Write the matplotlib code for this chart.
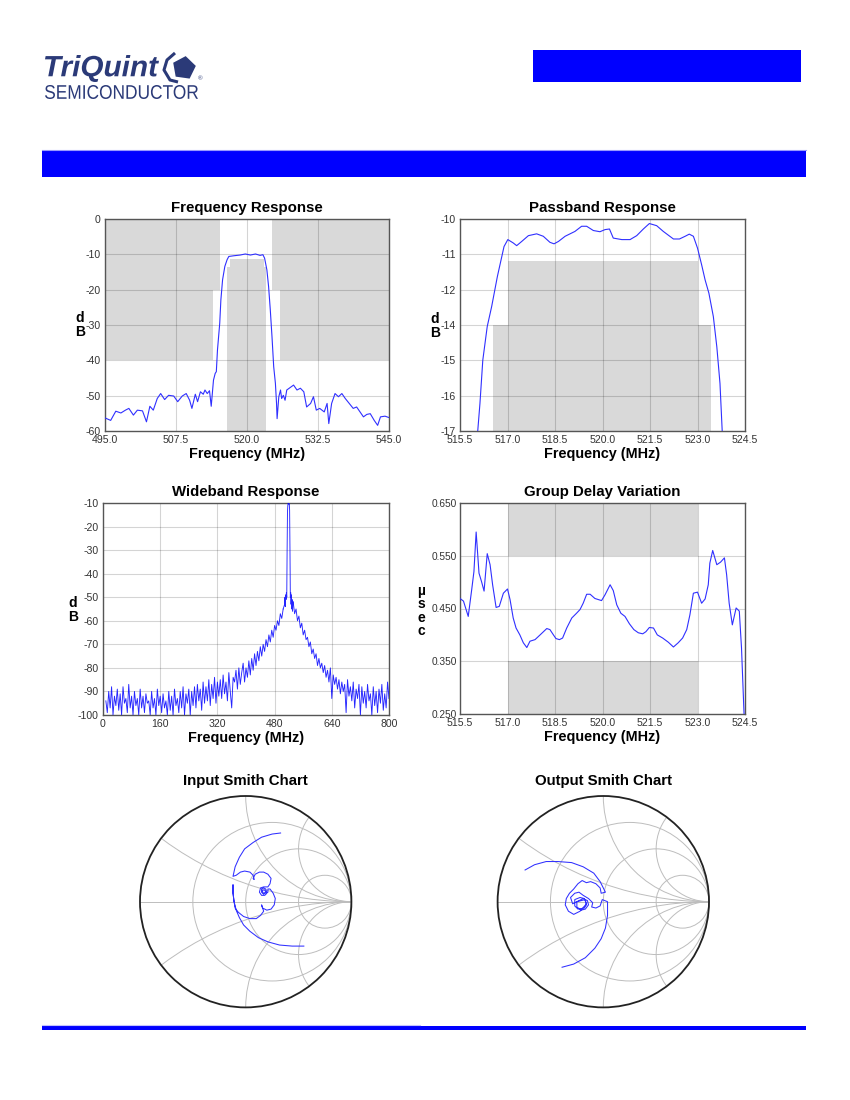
import numpy as np
import matplotlib
matplotlib.use("Agg")
import matplotlib.pyplot as plt
from matplotlib.patches import Rectangle, Circle, Polygon, PathPatch
from matplotlib.textpath import TextPath
from matplotlib.font_manager import FontProperties
from matplotlib.transforms import Affine2D

plt.rcParams['font.family'] = ['Liberation Sans', 'DejaVu Sans']

# ---------------- data ----------------
# Frequency Response (MHz, dB)
fr_freq = [495.0, 496.0, 496.9, 497.8, 498.6, 499.2, 500.0, 500.7, 501.6, 502.3, 502.9, 503.5,
           504.2, 504.8, 505.5, 506.2, 507.1, 507.8, 508.6, 509.3, 509.9, 510.3, 510.9, 511.3,
           511.8, 512.3, 512.6, 513.0, 513.4, 513.7, 514.1, 514.4, 514.6, 514.8, 515.2, 515.4,
           515.7, 516.1, 516.5, 516.8, 517.7, 518.8, 519.7, 520.6, 521.5, 522.3, 522.8, 523.1,
           523.5, 523.8, 524.1, 524.4, 524.7, 525.0, 525.2, 525.3, 525.6, 525.9, 526.1, 526.4,
           526.7, 527.0, 527.6, 528.2, 528.8, 529.4, 530.0, 530.5, 531.2, 531.7, 532.2, 532.8,
           533.6, 534.1, 534.4, 534.9, 535.5, 536.1, 536.7, 537.3, 538.0, 538.7, 539.3, 539.9,
           540.5, 541.1, 541.7, 542.4, 543.0, 543.5, 544.3, 545.0]
fr_db = [-56.3, -57.0, -54.4, -54.9, -54.1, -53.6, -55.5, -54.1, -54.3, -57.4, -53.0, -54.1,
         -50.8, -49.4, -51.1, -49.9, -50.1, -51.7, -50.1, -49.4, -51.3, -53.6, -49.6, -51.7,
         -48.9, -49.6, -48.4, -49.4, -48.6, -53.0, -45.6, -43.7, -43.2, -37.1, -29.5, -22.9,
         -17.2, -13.4, -11.5, -10.6, -10.4, -10.2, -9.9, -10.2, -9.9, -10.3, -10.1, -11.1,
         -14.4, -19.1, -25.7, -33.3, -41.8, -46.5, -52.2, -56.5, -50.3, -48.4, -50.8, -49.9,
         -51.3, -48.4, -47.7, -47.0, -48.4, -47.9, -48.9, -53.2, -52.2, -50.3, -54.1, -53.6,
         -54.6, -52.2, -57.9, -52.2, -49.4, -50.3, -49.4, -50.8, -52.2, -53.6, -53.2, -54.6,
         -56.0, -55.3, -55.1, -57.0, -58.4, -56.0, -55.8, -56.2]
fr_xticks = [495.0, 507.5, 520.0, 532.5, 545.0]
fr_xticklabels = ["495.0", "507.5", "520.0", "532.5", "545.0"]
fr_yticks = [0, -10, -20, -30, -40, -50, -60]
fr_yticklabels = ["0", "-10", "-20", "-30", "-40", "-50", "-60"]
# stop-band mask blocks: (f_start, f_end, dB_low, dB_high)
fr_mask = [(495.0, 515.2, -20, 0), (495.0, 514.0, -40, -20),
           (524.45, 545.0, -20, 0), (525.85, 545.0, -40, -20)]
# pass-band mask blocks (shared with passband chart)
pb_mask = [(516.55, 523.42, -60, -13.5), (517.0, 523.0, -60, -11.4)]

# Passband Response
pb_freq = [516.06, 516.13, 516.22, 516.36, 516.50, 516.68, 516.82, 516.89, 517.01, 517.18,
           517.29, 517.45, 517.66, 517.92, 518.13, 518.34, 518.47, 518.61, 518.82, 519.13,
           519.34, 519.50, 519.71, 519.92, 520.08, 520.22, 520.34, 520.61, 520.87, 521.08,
           521.29, 521.48, 521.71, 521.92, 522.24, 522.43, 522.61, 522.74, 522.87, 523.00,
           523.13, 523.24, 523.36, 523.50, 523.61, 523.71, 523.78]
pb_db = [-17.0, -16.09, -14.66, -13.55, -12.89, -11.90, -11.24, -10.91, -10.68, -10.79,
         -10.88, -10.74, -10.55, -10.49, -10.57, -10.77, -10.82, -10.74, -10.57, -10.41,
         -10.24, -10.24, -10.38, -10.42, -10.35, -10.33, -10.63, -10.68, -10.68, -10.55,
         -10.33, -10.15, -10.22, -10.41, -10.66, -10.66, -10.57, -10.50, -10.57, -10.96,
         -11.51, -12.01, -12.45, -13.22, -14.22, -15.43, -17.0]
pb_xticks = [515.5, 517.0, 518.5, 520.0, 521.5, 523.0, 524.5]
pb_xticklabels = ["515.5", "517.0", "518.5", "520.0", "521.5", "523.0", "524.5"]
pb_yticklabels = ["-10", "-11", "-12", "-14", "-15", "-16", "-17"]

# Wideband Response
wb_db_low = [-94, -99, -90, -97, -88, -100, -92, -96, -89, -98,
             -91, -100, -88, -95, -93, -99, -87, -97, -92, -100,
             -90, -96, -93, -100, -89, -97, -92, -99, -91, -95,
             -94, -100, -90, -97, -93, -100, -89, -96, -92, -99,
             -91, -97, -94, -100, -90, -98, -92, -100, -89, -96,
             -93, -99, -90, -97, -88, -100, -91, -95, -89, -100,
             -90, -96, -88, -97, -87, -94, -89, -98, -86, -95,
             -88, -94, -85, -96, -87, -93, -84, -95, -86, -92,
             -85, -93, -83, -91, -86, -94, -82, -90, -97, -84,
             -86, -81, -89, -80, -87, -82, -78, -86, -80, -84,
             -77, -83, -76, -81, -74, -79, -73, -77, -71, -75,
             -70, -73, -68, -71, -66, -69, -64, -67, -62, -64,
             -60, -62, -57, -59, -55]
wb_db_mid = [-53, -50, -54, -49, -51, -48, -50, -30, -14, -11, -10, -10, -10.5, -10.4,
             -13, -30, -50, -48, -53, -49, -55, -51, -56]
wb_db_high = [-52, -57, -55, -60, -58, -63, -61, -66, -64, -68,
              -67, -71, -69, -74, -72, -76, -74, -79, -76, -80,
              -78, -82, -79, -84, -81, -86, -80, -93, -83, -87,
              -84, -89, -85, -91, -86, -90, -87, -99, -85, -92,
              -88, -94, -86, -97, -89, -93, -87, -100, -88, -95,
              -90, -97, -87, -94, -91, -100, -88, -96, -90, -99,
              -89, -95, -87, -98, -91, -97, -86, -93]
wb_freq_low = np.arange(8, 505, 4)
wb_freq_mid = np.arange(508, 531, 1)
wb_freq_high = np.arange(532, 801, 4)
wb_xticks = [0, 160, 320, 480, 640, 800]
wb_yticks = [-10, -20, -30, -40, -50, -60, -70, -80, -90, -100]

# Group Delay Variation (MHz, usec)
gd_freq = [515.50, 515.61, 515.76, 515.87, 515.94, 516.01, 516.10, 516.18, 516.26, 516.36,
           516.45, 516.53, 516.64, 516.74, 516.87, 517.00, 517.08, 517.18, 517.27, 517.39,
           517.50, 517.61, 517.71, 517.87, 518.03, 518.24, 518.34, 518.45, 518.53, 518.64,
           518.74, 518.87, 519.03, 519.18, 519.29, 519.39, 519.50, 519.61, 519.76, 519.97,
           520.08, 520.24, 520.34, 520.45, 520.58, 520.71, 520.85, 520.99, 521.13, 521.27,
           521.37, 521.48, 521.61, 521.73, 521.90, 522.08, 522.24, 522.39, 522.53, 522.66,
           522.76, 522.87, 523.00, 523.13, 523.24, 523.34, 523.39, 523.48, 523.61, 523.73,
           523.85, 523.92, 524.00, 524.10, 524.22, 524.32, 524.39, 524.47]
gd_us = [0.469, 0.464, 0.435, 0.486, 0.520, 0.595, 0.517, 0.501, 0.483, 0.554,
         0.533, 0.495, 0.452, 0.454, 0.479, 0.487, 0.467, 0.432, 0.413, 0.400,
         0.385, 0.376, 0.388, 0.391, 0.400, 0.412, 0.410, 0.400, 0.393, 0.391,
         0.394, 0.413, 0.432, 0.441, 0.448, 0.460, 0.477, 0.477, 0.469, 0.465,
         0.476, 0.495, 0.484, 0.457, 0.441, 0.435, 0.421, 0.410, 0.404, 0.402,
         0.406, 0.414, 0.413, 0.400, 0.394, 0.386, 0.377, 0.385, 0.394, 0.410,
         0.438, 0.479, 0.481, 0.460, 0.468, 0.495, 0.536, 0.560, 0.533, 0.538,
         0.546, 0.514, 0.460, 0.419, 0.451, 0.445, 0.375, 0.250]
gd_yticks = [0.650, 0.550, 0.450, 0.350, 0.250]
gd_yticklabels = ["0.650", "0.550", "0.450", "0.350", "0.250"]
gd_mask = [(517.0, 523.0, 0.55, 0.65), (517.0, 523.0, 0.25, 0.35)]

# Smith charts: reflection coefficient in hundredths
in_re = [33, 25, 15, 7, -1, -6, -10, -12,
         -9, -5, -1, 4, 7, 8, 7, 9, 13, 17, 21, 24, 23, 21,
         17, 14, 13, 15, 18, 20, 19, 17, 15, 15, 17, 19, 18, 16, 16, 17, 21, 21,
         23, 26, 28, 27, 24, 20, 16, 15, 17, 14, 10, 4, -2, -7, -10,
         -11, -12, -12, -12, -11, -9, -6, -2, 4, 12, 21, 32, 44, 55]
in_im = [65, 64, 61, 56, 50, 42, 33, 24,
         25, 28, 29, 28, 25, 21, 22, 26, 28, 28, 26, 22, 17, 14,
         14, 13, 9, 6, 6, 8, 12, 13, 12, 9, 7, 9, 11, 11, 9, 8, 9, 12,
         12, 8, 3, -3, -7, -8, -6, -3, -9, -13, -16, -16, -14, -10, -6,
         0, 8, 16, 8, 0, -8, -15, -22, -28, -34, -38, -41, -42, -42]
out_re = [-74, -65, -54, -43, -30, -19, -9, -3, 2,
          -2, -3, -7, -12, -16, -20, -24, -28, -32, -35, -36, -33, -28, -22, -16, -18,
          -22, -27, -27, -24, -18, -16, -17, -25, -25, -21, -17, -14, -15, -19, -23,
          -29, -31, -27, -23, -19, -14, -10, -11, -7, -3, -1,
          4, 4, 2, -2, -8, -17, -28, -39]
out_im = [30, 35, 38, 38, 37, 33, 27, 19, 9,
          8, 13, 17, 19, 18, 20, 17, 12, 8, 3, -3, -9, -12, -9, -2, 3,
          4, 2, -4, -7, -6, -3, 2, 0, -5, -8, -7, -3, 1, 3, 1,
          -2, 4, 8, 9, 6, 3, -1, -5, -6, -4, 2,
          0, -13, -25, -35, -44, -53, -59, -62]
smith_r = [1 / 3, 1.0, 3.0]
smith_x = [1 / 3, 1.0, 2.0, -1 / 3, -1.0, -2.0]

# ---------------- styling ----------------
W, H = 850, 1100
BLUE = '#0000ff'
TRACE = '#3030ff'
MASK = '#d9d9d9'
NAVY = '#2b3a78'

fig = plt.figure(figsize=(8.5, 11), dpi=100)


def px_axes(left, top, right, bottom):
    return fig.add_axes([left / W, 1 - bottom / H, (right - left) / W, (bottom - top) / H])


def style(ax, title):
    ax.tick_params(length=0, labelsize=7.6, colors='#333333', pad=3)
    ax.grid(True, color='black', alpha=0.17, lw=0.8)
    ax.set_axisbelow('line')
    for s in ax.spines.values():
        s.set_color('#555555')
        s.set_linewidth(1.0)
    ax.set_title(title, fontsize=10.8, fontweight='bold', pad=5)
    ax.set_xlabel('Frequency (MHz)', fontsize=10.4, fontweight='bold', labelpad=1)


def ylab(x, y, s):
    fig.text(x / W, 1 - y / H, s, ha='center', va='center', fontsize=10,
             fontweight='bold', linespacing=0.92)


def mask(ax, blocks):
    for f0, f1, y0, y1 in blocks:
        ax.add_patch(Rectangle((f0, y0), f1 - f0, y1 - y0, facecolor=MASK,
                               edgecolor='none', zorder=1))


# Frequency response
ax1 = px_axes(105, 219, 389, 431)
mask(ax1, fr_mask)
mask(ax1, pb_mask)
ax1.plot(fr_freq, fr_db, color=TRACE, lw=0.8, zorder=3)
ax1.set_xlim(495, 545)
ax1.set_ylim(-60, 0)
ax1.set_xticks(fr_xticks, fr_xticklabels)
ax1.set_yticks(fr_yticks, fr_yticklabels)
style(ax1, 'Frequency Response')
ylab(80, 325, 'd\nB')

# Passband response
ax2 = px_axes(460, 219, 745, 431)
mask(ax2, [(f0, f1, -17, y1) for f0, f1, y0, y1 in pb_mask])
ax2.plot(pb_freq, pb_db, color=TRACE, lw=0.8, zorder=3)
ax2.set_xlim(515.5, 524.5)
ax2.set_ylim(-17, -10)
ax2.set_xticks(pb_xticks, pb_xticklabels)
ax2.set_yticks(np.linspace(-10, -17, len(pb_yticklabels)), pb_yticklabels)
style(ax2, 'Passband Response')
ylab(435, 326, 'd\nB')

# Wideband response
ax3 = px_axes(103, 503, 389, 715)
ax3.plot(wb_freq_low, wb_db_low, color=BLUE, lw=0.65, alpha=0.85, zorder=3)
ax3.plot(np.concatenate([[wb_freq_low[-1]], wb_freq_mid, [wb_freq_high[0]]]),
         [wb_db_low[-1]] + wb_db_mid + [wb_db_high[0]], color=BLUE, lw=0.65, alpha=0.85, zorder=3)
ax3.plot(wb_freq_high, wb_db_high, color=BLUE, lw=0.65, alpha=0.85, zorder=3)
ax3.set_xlim(0, 800)
ax3.set_ylim(-100, -10)
ax3.set_xticks(wb_xticks, [str(v) for v in wb_xticks])
ax3.set_yticks(wb_yticks, [str(v) for v in wb_yticks])
style(ax3, 'Wideband Response')
ylab(73, 610, 'd\nB')

# Group delay
ax4 = px_axes(460, 503, 745, 714)
mask(ax4, gd_mask)
ax4.plot(gd_freq, gd_us, color=TRACE, lw=0.8, zorder=3)
ax4.set_xlim(515.5, 524.5)
ax4.set_ylim(0.25, 0.65)
ax4.set_xticks(pb_xticks, pb_xticklabels)
ax4.set_yticks(gd_yticks, gd_yticklabels)
style(ax4, 'Group Delay Variation')
ax4.tick_params(axis='y', labelsize=7.3, pad=2.5)
ylab(421, 611, 'µ\ns\ne\nc')


# Smith charts
def smith(cx, cy, R, title, re, im):
    k = 1.03
    ax = px_axes(cx - R * k, cy - R * k, cx + R * k, cy + R * k)
    ax.set_xlim(-k, k)
    ax.set_ylim(-k, k)
    ax.set_aspect('equal')
    ax.axis('off')
    unit = Circle((0, 0), 1, facecolor='white', edgecolor='none', zorder=0)
    ax.add_patch(unit)
    gcol = '#bdbdbd'
    for r in smith_r:
        ax.add_patch(Circle((r / (1 + r), 0), 1 / (1 + r), fill=False, edgecolor=gcol, lw=0.7, zorder=1))
    for x in smith_x:
        c = Circle((1, 1 / x), abs(1 / x), fill=False, edgecolor=gcol, lw=0.7, zorder=1)
        ax.add_patch(c)
        c.set_clip_path(unit)
    ax.plot([-1, 1], [0, 0], color=gcol, lw=0.7, zorder=1)
    ax.add_patch(Circle((0, 0), 1, fill=False, edgecolor='#222222', lw=1.3, zorder=4))
    ax.plot(np.array(re) / 100, np.array(im) / 100, color=TRACE, lw=0.75, zorder=3)
    fig.text(cx / W, 1 - 781 / H, title, ha='center', va='center', fontsize=10.8, fontweight='bold')


smith(245.7, 901.7, 105.7, 'Input Smith Chart', in_re, in_im)
smith(603.3, 901.7, 105.7, 'Output Smith Chart', out_re, out_im)

# ---------------- header / footer ----------------
bg = fig.add_axes([0, 0, 1, 1], zorder=-5)
bg.set_xlim(0, W)
bg.set_ylim(H, 0)
bg.axis('off')
bg.add_patch(Rectangle((533, 50), 268, 32, facecolor=BLUE, edgecolor='none'))
bg.add_patch(Rectangle((42, 151), 764, 26, facecolor=BLUE, edgecolor='none'))
bg.plot([42, 806], [150, 150], color='#9a9aff', lw=0.8)
bg.add_patch(Rectangle((42, 1026), 764, 4, facecolor=BLUE, edgecolor='none'))
bg.plot([42, 420], [1024.5, 1024.5], color='#c4c4ff', lw=0.8)


def text_box(s, x0, y0, x1, y1, prop, color):
    tp = TextPath((0, 0), s, size=20, prop=prop)
    e = tp.get_extents()
    tr = Affine2D().translate(-e.x0, -e.y0).scale((x1 - x0) / e.width, -(y1 - y0) / e.height).translate(x0, y1)
    bg.add_patch(PathPatch(tr.transform_path(tp), facecolor=color, edgecolor='none'))


text_box('TriQuint', 45, 55, 159, 82, FontProperties(family='Liberation Sans', weight='bold', style='italic'), NAVY)
text_box('SEMICONDUCTOR', 45, 85, 198, 99, FontProperties(family='Liberation Sans'), NAVY)
# pentagon icon
ang = np.deg2rad(np.array([90, 162, 234, 306, 18]) - 8)
bg.add_patch(Polygon(np.c_[184 + 12 * np.cos(ang), 68 - 12 * np.sin(ang)], closed=True,
                     facecolor=NAVY, edgecolor='none'))
bg.plot([175, 167, 164, 170, 178], [53, 60, 70, 80, 82], color=NAVY, lw=2.2, solid_capstyle='butt')
bg.text(200, 79, '®', fontsize=4.5, color=NAVY, ha='center', va='center')

fig.savefig('out.png', dpi=100, facecolor='white')
